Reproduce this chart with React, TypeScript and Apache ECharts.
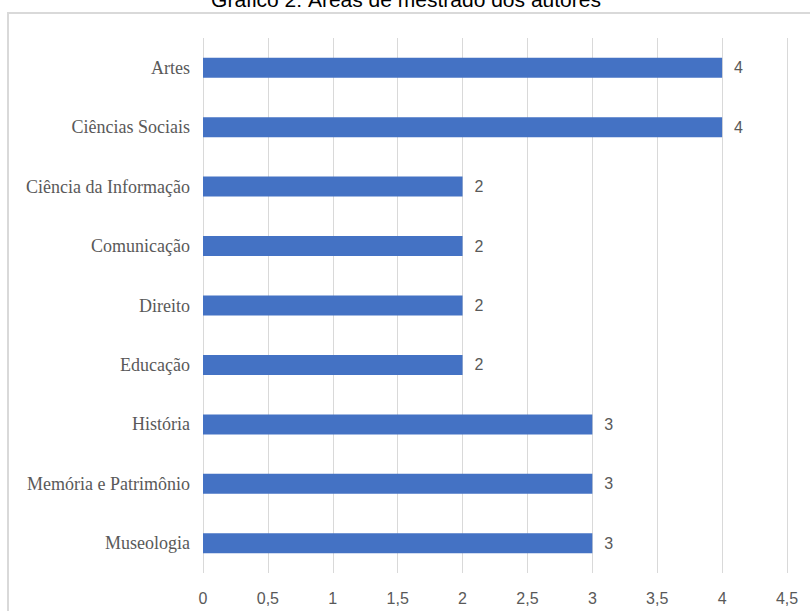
import React, { useEffect, useRef } from "react";
import * as echarts from "echarts";

const categories = [
  "Artes",
  "Ciências Sociais",
  "Ciência da Informação",
  "Comunicação",
  "Direito",
  "Educação",
  "História",
  "Memória e Patrimônio",
  "Museologia",
];
const values = [4, 4, 2, 2, 2, 2, 3, 3, 3];
const titleText = "Gráfico 2: Áreas de mestrado dos autores";

export default function App() {
  const ref = useRef<HTMLDivElement>(null);
  useEffect(() => {
    if (!ref.current) return;
    const chart = echarts.init(ref.current, undefined, { renderer: "svg" });
    const serif = "Liberation Serif";
    const sans = "Liberation Sans";
    chart.setOption({
      animation: false,
      backgroundColor: "#ffffff",
      graphic: [
        {
          type: "rect",
          shape: { x: 8, y: 13, width: 820, height: 620 },
          style: { fill: "none", stroke: "#d9d9d9", lineWidth: 2 },
          silent: true,
        },
        {
          type: "text",
          x: 406,
          y: 10,
          style: {
            text: titleText,
            fill: "#000000",
            fontFamily: sans,
            fontSize: 21,
            textAlign: "center",
            textVerticalAlign: "bottom",
          },
        },
      ],
      grid: { left: 203, right: 23, top: 38, bottom: 38, containLabel: false },
      xAxis: {
        type: "value",
        min: 0,
        max: 4.5,
        interval: 0.5,
        axisLine: { show: false },
        axisTick: { show: false },
        splitLine: { show: true, lineStyle: { color: "#d9d9d9", width: 1 } },
        axisLabel: {
          color: "#595959",
          fontFamily: sans,
          fontSize: 16,
          margin: 17,
          formatter: (v: number) => String(v).replace(".", ","),
        },
      },
      yAxis: {
        type: "category",
        inverse: true,
        data: categories,
        axisLine: { show: false },
        axisTick: { show: false },
        splitLine: { show: false },
        axisLabel: {
          color: "#595959",
          fontFamily: serif,
          fontSize: 18,
          margin: 13,
        },
      },
      series: [
        {
          type: "bar",
          data: values,
          barWidth: 20,
          itemStyle: { color: "#4472c4" },
          label: {
            show: true,
            position: "right",
            distance: 12,
            color: "#595959",
            fontFamily: sans,
            fontSize: 16,
          },
        },
      ],
    });
    return () => chart.dispose();
  }, []);
  return (
    <div
      ref={ref}
      style={{ position: "absolute", left: 0, top: 0, width: 810, height: 611 }}
    />
  );
}
